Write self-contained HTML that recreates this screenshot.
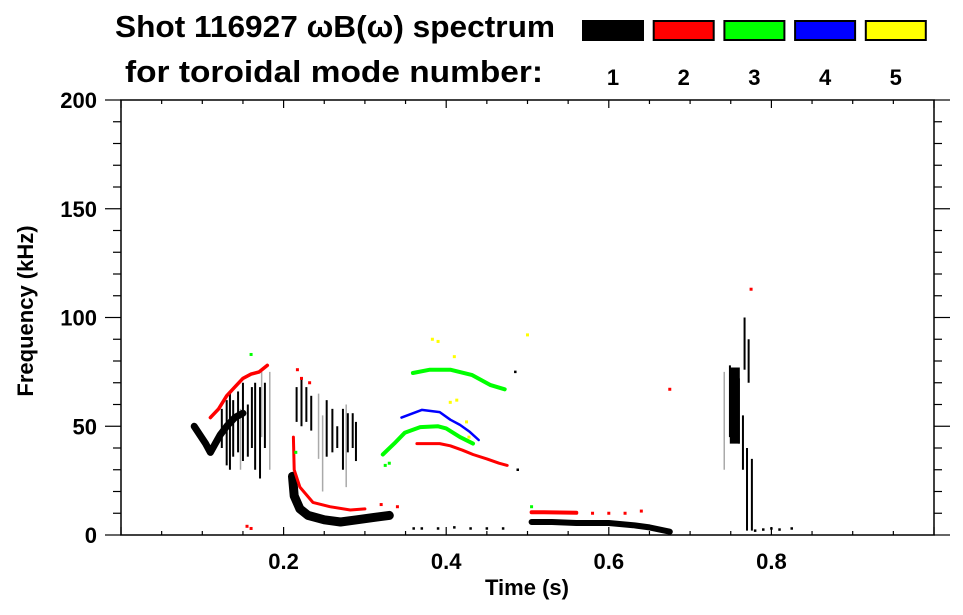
<!DOCTYPE html>
<html><head><meta charset="utf-8"><style>
html,body{margin:0;padding:0;background:#fff;}
svg{display:block;font-family:"Liberation Sans",Arial,sans-serif;font-weight:bold;}
</style></head><body>
<svg id="chart" width="963" height="615" viewBox="0 0 963 615">
  <text x="115" y="37" font-size="31" textLength="440" lengthAdjust="spacingAndGlyphs">Shot 116927 ωB(ω) spectrum</text>
  <text x="125" y="82" font-size="31" textLength="418" lengthAdjust="spacingAndGlyphs">for toroidal mode number:</text>
  <g id="legend"></g>
  <g id="axes"></g>
  <g id="marks"></g>
  <text x="527" y="595" font-size="22" text-anchor="middle">Time (s)</text>
  <text transform="translate(33,311) rotate(-90)" font-size="22" text-anchor="middle">Frequency (kHz)</text>
</svg>
<script>
const modeLabels = ["1","2","3","4","5"];
const modeColors = ["#000000","#ff0000","#00ff00","#0000ff","#ffff00"];
const xTicks = [0.2,0.4,0.6,0.8];
const xTickLabels = ["0.2","0.4","0.6","0.8"];
const yTicks = [0,50,100,150,200];
const yTickLabels = ["0","50","100","150","200"];

// mode 1 (black)
const m1EarlyBlob = [[0.090,50],[0.097,46],[0.104,42],[0.110,38],[0.116,42],[0.122,46],[0.130,50],[0.140,54],[0.150,56]];
const m1Streaks = [[0.124,40,58],[0.130,32,62],[0.134,30,66],[0.138,36,62],[0.144,38,66],[0.150,34,70],[0.156,36,60],[0.161,40,68],[0.165,30,70],[0.171,26,68],[0.177,40,70],[0.216,52,68],[0.222,50,72],[0.228,52,68],[0.234,48,64],[0.253,36,62],[0.260,38,58],[0.266,40,50],[0.273,30,58],[0.279,38,56],[0.285,40,56],[0.289,34,52],[0.749,45,78],[0.760,42,72],[0.767,76,100],[0.772,70,90],[0.770,2,40],[0.776,2,35],[0.765,30,55]];
const m1GrayStreaks = [[0.183,30,75],[0.248,20,55],[0.173,45,75],[0.243,35,65],[0.277,22,60],[0.147,30,58],[0.742,30,75]];
const m1Band2 = [[0.211,27],[0.213,18],[0.220,12],[0.230,9],[0.250,7],[0.270,6],[0.290,7],[0.310,8],[0.330,9]];
const m1Band3 = [[0.505,6],[0.530,6],[0.560,5.5],[0.600,5.5],[0.630,4.5],[0.650,3.5],[0.675,1.5]];
const m1Blobs = [[0.755,42,77]];
const m1Dots = [[0.36,3],[0.37,3],[0.39,3],[0.41,3.5],[0.43,3],[0.45,3],[0.47,3],[0.488,30],[0.485,75],[0.78,2],[0.79,2.5],[0.80,3],[0.81,2.5],[0.825,3]];

// mode 2 (red)
const m2Early = [[0.110,54],[0.120,58],[0.130,64],[0.140,68],[0.150,72],[0.160,74],[0.170,75],[0.180,78]];
const m2Band2 = [[0.212,45],[0.213,30],[0.220,22],[0.236,15],[0.257,13],[0.282,11.5],[0.300,12]];
const m2Arc = [[0.364,42],[0.380,42],[0.392,42],[0.405,41],[0.420,39],[0.433,37],[0.450,35],[0.465,33],[0.475,32]];
const m2Band3 = [[0.505,10.5],[0.520,10.5],[0.560,10.2]];
const m2Dots = [[0.58,10],[0.60,10],[0.62,10],[0.64,11],[0.675,67],[0.775,113],[0.155,4],[0.160,3],[0.32,14],[0.34,13],[0.217,76],[0.222,72],[0.232,70]];

// mode 3 (green)
const m3TopArc = [[0.359,74.5],[0.380,76],[0.405,76],[0.432,73.5],[0.454,69],[0.472,67]];
const m3LowArc = [[0.322,37],[0.336,42],[0.349,47],[0.368,49.6],[0.390,50],[0.400,49],[0.417,45],[0.433,42]];
const m3Dots = [[0.325,32],[0.330,33],[0.215,38],[0.160,83],[0.505,13]];

// mode 4 (blue)
const m4Arc = [[0.345,54],[0.370,57.5],[0.392,56.5],[0.405,53],[0.417,50.6],[0.429,47.4],[0.440,43.7]];

// mode 5 (yellow)
const m5Dots = [[0.383,90],[0.390,89],[0.410,82],[0.405,61],[0.413,62],[0.425,52],[0.428,45],[0.500,92]];

const L=121,R=934,T=100,B=535;
function xs(t){return L+t*(R-L);}
function ys(f){return B-f*(B-T)/200;}
const NS="http://www.w3.org/2000/svg";
function mk(tag,attrs,parent){const e=document.createElementNS(NS,tag);for(const k in attrs)e.setAttribute(k,attrs[k]);parent.appendChild(e);return e;}

// legend
const lg=document.getElementById('legend');
modeLabels.forEach((lab,i)=>{
  const x0=582+i*70.7;
  const r=mk('rect',{x:x0+1,y:21,width:60,height:19,fill:modeColors[i],stroke:'#000','stroke-width':2},lg);
  
  
  const t=mk('text',{x:x0+31,y:85,'font-size':22,'text-anchor':'middle'},lg);
  t.textContent=lab;
  
  
});

// axes
const ax=document.getElementById('axes');
const frame=mk('rect',{x:L,y:T,width:R-L,height:B-T,fill:'none',stroke:'#000','stroke-width':1.5},ax);


for(let i=0;i<=20;i++){
  const t=i*0.05, x=xs(t), major=(i%4===0);
  const len=major?8:4;
  mk('line',{x1:x,y1:B,x2:x,y2:B-len,stroke:'#000','stroke-width':1.2},ax);
  mk('line',{x1:x,y1:T,x2:x,y2:T+len,stroke:'#000','stroke-width':1.2},ax);
}
for(let i=0;i<=20;i++){
  const f=i*10, y=ys(f), major=(i%5===0);
  const len=major?16:8;
  mk('line',{x1:L,y1:y,x2:L-len,y2:y,stroke:'#000','stroke-width':1.2},ax);
  mk('line',{x1:R,y1:y,x2:R+len,y2:y,stroke:'#000','stroke-width':1.2},ax);
}
xTicks.forEach((v,i)=>{
  const t=mk('text',{x:xs(v),y:569,'font-size':22,'text-anchor':'middle'},ax);
  t.textContent=xTickLabels[i];
  
  
});
yTicks.forEach((v,i)=>{
  const t=mk('text',{x:97,y:ys(v)+8,'font-size':22,'text-anchor':'end'},ax);
  t.textContent=yTickLabels[i];
  
  
});

// marks
const mg=document.getElementById('marks');
function trace(pts,color,w,name){
  const d=pts.map((p,i)=>(i?'L':'M')+xs(p[0]).toFixed(1)+' '+ys(p[1]).toFixed(1)).join(' ');
  const e=mk('path',{d:d,fill:'none',stroke:color,'stroke-width':w,'stroke-linecap':'round','stroke-linejoin':'round'},mg);
  
  
}
function streaks(arr,color,w,name,op){
  arr.forEach(s=>{
    const e=mk('line',{x1:xs(s[0]),x2:xs(s[0]),y1:ys(s[1]),y2:ys(s[2]),stroke:color,'stroke-width':w,opacity:op},mg);
    
    
  });
}
function dots(arr,color,sz,name){
  arr.forEach(p=>{
    const e=mk('rect',{x:xs(p[0])-sz/2,y:ys(p[1])-sz/2,width:sz,height:sz,fill:color},mg);
    
    
  });
}
streaks(m1GrayStreaks,'#aaa',1.5,'mode1-faint-streak',1);
streaks(m1Streaks,'#000',2,'mode1-streak',1);
streaks(m1Blobs,'#000',10,'mode1-blob',1);
trace(m1EarlyBlob,'#000',7,'mode1-early-chirp');
trace(m1Band2,'#000',9,'mode1-low-band');
trace(m1Band3,'#000',6,'mode1-late-band');
dots(m1Dots,'#000',2.5,'mode1-dot');
trace(m2Early,'#f00',3.5,'mode2-early-chirp');
trace(m2Band2,'#f00',3,'mode2-decay-curve');
trace(m2Arc,'#f00',3,'mode2-arc');
trace(m2Band3,'#f00',4,'mode2-late-band');
dots(m2Dots,'#f00',3,'mode2-dot');
trace(m3TopArc,'#0f0',4,'mode3-upper-arc');
trace(m3LowArc,'#0f0',4,'mode3-lower-arc');
dots(m3Dots,'#0f0',3,'mode3-dot');
trace(m4Arc,'#00f',2.5,'mode4-arc');
dots(m5Dots,'#ff0',3,'mode5-dot');
</script>
</body></html>
